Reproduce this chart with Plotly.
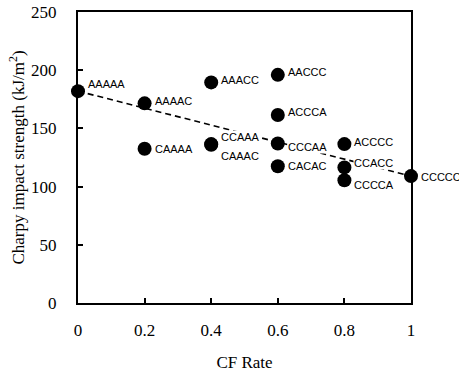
import plotly.graph_objects as go

# Data
labels = ["AAAAA", "AAAAC", "CAAAA", "AAACC", "CCAAA", "CAAAC", "AACCC",
          "ACCCA", "CCCAA", "CACAC", "ACCCC", "CCACC", "CCCCA", "CCCCC"]
cf_rate = [0.0, 0.2, 0.2, 0.4, 0.4, 0.4, 0.6, 0.6, 0.6, 0.6, 0.8, 0.8, 0.8, 1.0]
strength = [182, 171.5, 132.5, 189.5, 136.5, 136, 196, 161.5, 137, 117.5,
            136.5, 116.5, 105.5, 109]
x_ticks = [0, 0.2, 0.4, 0.6, 0.8, 1]
x_ticktext = ["0", "0.2", "0.4", "0.6", "0.8", "1"]
y_ticks = [0, 50, 100, 150, 200, 250]

# label vertical offsets (px, positive = up)
label_yshift = {"AAAAA": 7, "AAAAC": 2, "CAAAA": 0, "AAACC": 2, "CCAAA": 7,
                "CAAAC": -11, "AACCC": 3, "ACCCA": 3, "CCCAA": -3, "CACAC": 0,
                "ACCCC": 2, "CCACC": 4, "CCCCA": -5, "CCCCC": -1}

fig = go.Figure()
# dashed line between the pure-A and pure-C laminates
fig.add_trace(go.Scatter(
    x=[cf_rate[0], cf_rate[-1]], y=[strength[0], strength[-1]],
    mode="lines", line=dict(color="black", width=1.6, dash="6px,4px"),
    hoverinfo="skip", showlegend=False, cliponaxis=False))
fig.add_trace(go.Scatter(
    x=cf_rate, y=strength, mode="markers",
    marker=dict(color="black", size=14),
    showlegend=False, cliponaxis=False))

for lb, xv, yv in zip(labels, cf_rate, strength):
    fig.add_annotation(x=xv, y=yv, text=lb, showarrow=False,
                       xanchor="left", yanchor="middle", xshift=9,
                       yshift=label_yshift[lb], bgcolor="white", borderpad=0,
                       font=dict(family="Liberation Sans, Arial", size=11, color="black"))

axis_font = dict(family="Liberation Serif, Times New Roman", size=17, color="black")
fig.update_layout(
    width=459, height=372,
    margin=dict(l=78, r=48, t=12, b=69),
    plot_bgcolor="white", paper_bgcolor="white",
    xaxis=dict(range=[0, 1], tickvals=x_ticks, ticktext=x_ticktext,
               ticks="inside", ticklen=5, tickwidth=1.5, tickcolor="black",
               showline=True, linewidth=2.2, linecolor="black", mirror=True,
               showgrid=False, zeroline=False, tickfont=axis_font,
               ticklabelstandoff=10, automargin=False,
               title=dict(text="CF Rate", font=axis_font, standoff=18)),
    yaxis=dict(range=[0, 250], tickvals=y_ticks,
               ticks="inside", ticklen=5, tickwidth=1.5, tickcolor="black",
               showline=True, linewidth=2.2, linecolor="black", mirror=True,
               showgrid=False, zeroline=False, tickfont=axis_font,
               ticklabelstandoff=16, automargin=False,
               title=dict(text="Charpy impact strength (kJ/m<sup>2</sup>)",
                          font=axis_font, standoff=2)),
)

fig.write_html("out.html", config={"displayModeBar": False},
               post_script="document.body.style.margin='0';document.body.style.overflow='hidden';")
